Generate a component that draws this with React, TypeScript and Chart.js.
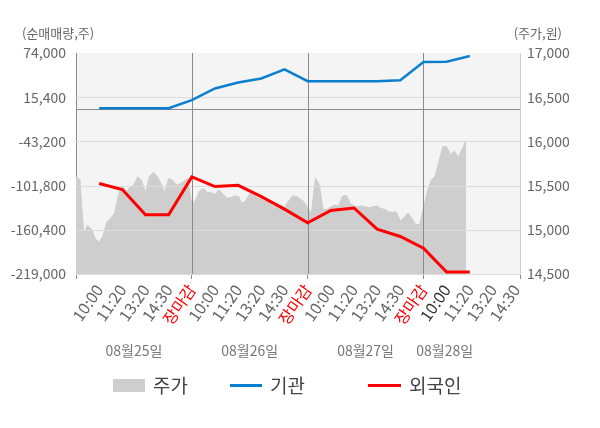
import { useEffect, useRef } from "react"
import { Chart, registerables } from "chart.js"

Chart.register(...registerables)

const FONT = "'Noto Sans CJK KR', 'Noto Sans', sans-serif"

// 하루 = 30칸, 라벨 간격 6칸
const SLOT = 6
const DAY = 30
const X_MAX = 115

const timeLabels = ["10:00", "11:20", "13:20", "14:30", "장마감"]
const dayLabels = ["08월25일", "08월26일", "08월27일", "08월28일"]

const leftTicks = [74000, 15400, -43200, -101800, -160400, -219000]
const rightTicks = [14500, 15000, 15500, 16000, 16500, 17000]

// 주가 (원)
const prices = [
  15600, 15570, 14960, 15050, 15010, 14900, 14860, 14930, 15090, 15130,
  15190, 15400, 15500, 15430, 15480, 15510, 15600, 15560, 15410, 15600,
  15650, 15610, 15520, 15420, 15580, 15560, 15510, 15520, 15550, 15580,
  15280, 15340, 15440, 15470, 15420, 15420, 15400, 15450, 15410, 15360,
  15360, 15380, 15380, 15300, 15330, 15410, 15390, 15360, 15350, 15320,
  15310, 15270, 15260, 15280, 15250, 15320, 15380, 15380, 15350, 15320,
  15250, 15190, 15590, 15510, 15230, 15230, 15260, 15280, 15270, 15380,
  15390, 15300, 15270, 15260, 15270, 15260, 15250, 15260, 15270, 15240,
  15230, 15200, 15200, 15200, 15100, 15140, 15190, 15130, 15060, 15060,
  15250, 15430, 15560, 15610, 15770, 15940, 15940, 15850, 15890, 15820,
  15910, 16010,
]

// 기관 순매매량 (주)
const instNet = [
  800, 800, 800, 800, 11400, 27000, 35000, 40300, 52300, 36700, 36700,
  36700, 36700, 38000, 62000, 62500, 70000,
]

// 외국인 순매매량 (주)
const foreignNet = [
  -99100, -107100, -140400, -140400, -90200, -103100, -101400, -116400,
  -133000, -151100, -134700, -131500, -159500, -169300, -184800, -216300,
  -216300,
]

const xTicks: { value: number; label: string }[] = [{ value: 0, label: "" }]
dayLabels.forEach((_, d) => {
  timeLabels.forEach((t, k) => {
    const v = d * DAY + (k + 1) * SLOT
    if (v < X_MAX) xTicks.push({ value: v, label: t })
  })
})
xTicks.push({ value: X_MAX, label: "" })

const decor = {
  id: "decor",
  beforeDraw(chart: any) {
    const { ctx, chartArea: a } = chart
    ctx.save()
    ctx.fillStyle = "#f4f4f4"
    ctx.fillRect(a.left, a.top, a.right - a.left, a.bottom - a.top)
    ctx.restore()
  },
  afterDatasetDraw(chart: any, args: any) {
    if (args.index !== 0) return
    const { ctx, chartArea: a, scales } = chart
    ctx.save()
    ctx.lineWidth = 1
    ctx.strokeStyle = "#dcdcdc"
    leftTicks.forEach((v) => {
      if (v === leftTicks[0]) return
      const y = Math.round(scales.y.getPixelForValue(v)) + 0.5
      ctx.beginPath()
      ctx.moveTo(a.left, y)
      ctx.lineTo(a.right, y)
      ctx.stroke()
    })
    ctx.strokeStyle = "#8a8a8a"
    const y0 = Math.round(scales.y.getPixelForValue(0)) + 0.5
    ctx.beginPath()
    ctx.moveTo(a.left, y0)
    ctx.lineTo(a.right, y0)
    ctx.stroke()
    for (let d = 1; d < dayLabels.length; d++) {
      const x = Math.round(scales.x.getPixelForValue(d * DAY)) + 0.5
      ctx.beginPath()
      ctx.moveTo(x, a.top)
      ctx.lineTo(x, a.bottom)
      ctx.stroke()
    }
    ctx.restore()
  },
  afterDraw(chart: any) {
    const { ctx, chartArea: a, scales } = chart
    ctx.save()
    ctx.fillStyle = "#666"
    ctx.font = `13px ${FONT}`
    ctx.textBaseline = "middle"
    ctx.textAlign = "left"
    ctx.fillText("(순매매량,주)", a.left - 54, a.top - 20)
    ctx.textAlign = "right"
    ctx.fillText("(주가,원)", a.right + 42, a.top - 20)

    ctx.fillStyle = "#777"
    ctx.font = `14px ${FONT}`
    ctx.textAlign = "center"
    dayLabels.forEach((label, d) => {
      const x0 = scales.x.getPixelForValue(d * DAY)
      const x1 = scales.x.getPixelForValue(
        Math.min((d + 1) * DAY, prices.length - 1)
      )
      ctx.fillText(label, (x0 + x1) / 2, a.bottom + 77)
    })
    ctx.restore()
  },
}

export default function App() {
  const canvasRef = useRef<HTMLCanvasElement | null>(null)
  const chartRef = useRef<Chart | null>(null)

  useEffect(() => {
    if (!canvasRef.current) return
    const ctx = canvasRef.current.getContext("2d")
    if (!ctx) return
    if (chartRef.current) chartRef.current.destroy()

    chartRef.current = new Chart(ctx, {
      type: "line",
      data: {
        datasets: [
          {
            label: "주가",
            data: prices.map((p, i) => ({ x: i, y: p })),
            yAxisID: "y1",
            borderColor: "#cecece",
            backgroundColor: "#cecece",
            borderWidth: 1,
            fill: "start",
            pointRadius: 0,
            order: 2,
          },
          {
            label: "기관",
            data: instNet.map((v, i) => ({ x: (i + 1) * SLOT, y: v })),
            yAxisID: "y",
            borderColor: "#0a7fcf",
            borderWidth: 2.5,
            pointRadius: 0,
            fill: false,
            order: 1,
          },
          {
            label: "외국인",
            data: foreignNet.map((v, i) => ({ x: (i + 1) * SLOT, y: v })),
            yAxisID: "y",
            borderColor: "#ff0000",
            borderWidth: 3,
            pointRadius: 0,
            fill: false,
            order: 0,
          },
        ],
      },
      options: {
        responsive: false,
        animation: false,
        events: [],
        layout: { padding: { top: 53, left: 0, right: 0, bottom: 0 } },
        plugins: {
          legend: { display: false },
          tooltip: { enabled: false },
        },
        scales: {
          x: {
            type: "linear",
            min: 0,
            max: X_MAX,
            afterBuildTicks: (scale: any) => {
              scale.ticks = xTicks.map((t) => ({ value: t.value }))
            },
            afterFit: (scale: any) => {
              scale.height = 154
            },
            border: { display: true, color: "#8a8a8a" },
            grid: {
              drawOnChartArea: false,
              drawTicks: true,
              tickLength: 5,
              color: (c: any) =>
                c.tick && (c.tick.value % DAY === 0 || c.tick.value === X_MAX)
                  ? "#8a8a8a"
                  : "rgba(0,0,0,0)",
            },
            ticks: {
              autoSkip: false,
              minRotation: 55,
              maxRotation: 55,
              padding: 2,
              font: { family: FONT, size: 16 },
              color: (c: any) => {
                const v = c.tick ? c.tick.value : -1
                if (v > 0 && v % DAY === 0) return "#ff0000"
                if (v === 3 * DAY + SLOT) return "#333"
                return "#666"
              },
              callback: (value: any) => {
                const t = xTicks.find((k) => k.value === value)
                return t ? t.label : ""
              },
            },
          },
          y: {
            type: "linear",
            position: "left",
            min: leftTicks[leftTicks.length - 1],
            max: leftTicks[0],
            afterBuildTicks: (scale: any) => {
              scale.ticks = leftTicks.map((v) => ({ value: v }))
            },
            afterFit: (scale: any) => {
              scale.width = 76
            },
            border: { display: true, color: "#8a8a8a" },
            grid: { drawOnChartArea: false, drawTicks: false },
            ticks: {
              padding: 10,
              color: "#666",
              font: { family: FONT, size: 14 },
              callback: (value: any) => Number(value).toLocaleString("en-US"),
            },
          },
          y1: {
            type: "linear",
            position: "right",
            min: rightTicks[0],
            max: rightTicks[rightTicks.length - 1],
            afterBuildTicks: (scale: any) => {
              scale.ticks = rightTicks.map((v) => ({ value: v }))
            },
            afterFit: (scale: any) => {
              scale.width = 80
            },
            border: { display: true, color: "#d0d0d0" },
            grid: { drawOnChartArea: false, drawTicks: false },
            ticks: {
              padding: 7,
              color: "#666",
              font: { family: FONT, size: 14 },
              callback: (value: any) => Number(value).toLocaleString("en-US"),
            },
          },
        },
      },
      plugins: [decor],
    })

    return () => {
      if (chartRef.current) {
        chartRef.current.destroy()
        chartRef.current = null
      }
    }
  }, [])

  const legendText = {
    fontFamily: FONT,
    fontSize: 19,
    color: "#444",
    marginLeft: 8,
    lineHeight: "20px",
  }

  return (
    <div
      style={{
        position: "absolute",
        left: 0,
        top: 0,
        width: 600,
        height: 428,
        background: "#fff",
      }}
    >
      <canvas ref={canvasRef} width={600} height={428} style={{ display: "block" }} />
      <div style={{ position: "absolute", left: 113, top: 375, display: "flex", alignItems: "center" }}>
        <span style={{ width: 32, height: 13, background: "#cecece", display: "inline-block" }} />
        <span style={legendText}>주가</span>
      </div>
      <div style={{ position: "absolute", left: 230, top: 375, display: "flex", alignItems: "center" }}>
        <span style={{ width: 32, height: 3, background: "#0a7fcf", display: "inline-block" }} />
        <span style={legendText}>기관</span>
      </div>
      <div style={{ position: "absolute", left: 368, top: 375, display: "flex", alignItems: "center" }}>
        <span style={{ width: 33, height: 3, background: "#ff0000", display: "inline-block" }} />
        <span style={legendText}>외국인</span>
      </div>
    </div>
  )
}
